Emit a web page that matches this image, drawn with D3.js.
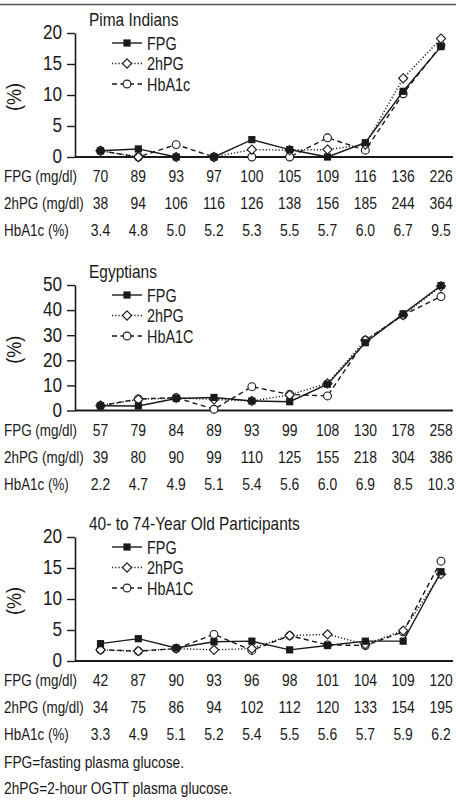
<!DOCTYPE html>
<html><head><meta charset="utf-8">
<script src="https://cdn.jsdelivr.net/npm/d3@7"></script>
<style>body{margin:0;background:#fff}</style></head>
<body>
<svg id="c" width="456" height="804"></svg>
<script>
// ---------- data ----------
const panelTitles = ["Pima Indians", "Egyptians", "40- to 74-Year Old Participants"];
const legendNames1 = ["FPG", "2hPG", "HbA1c"];
const legendNames2 = ["FPG", "2hPG", "HbA1C"];
const legendNames3 = ["FPG", "2hPG", "HbA1C"];
const rowLabels = ["FPG (mg/dl)", "2hPG (mg/dl)", "HbA1c (%)"];

const pimaFPGLabels  = ["70","89","93","97","100","105","109","116","136","226"];
const pima2hPGLabels = ["38","94","106","116","126","138","156","185","244","364"];
const pimaHbLabels   = ["3.4","4.8","5.0","5.2","5.3","5.5","5.7","6.0","6.7","9.5"];
const pimaFPG  = [1.0, 1.3, 0, 0, 2.8, 1.2, 0, 2.3, 10.6, 17.8];
const pima2hPG = [1.0, 0, 0, 0, 1.2, 1.1, 1.2, 2.0, 12.7, 19.1];
const pimaHb   = [1.0, 0, 2.0, 0, 0, 0, 3.1, 1.1, 10.2, 18.0];
const pimaTicks = [0, 5, 10, 15, 20];

const egyFPGLabels  = ["57","79","84","89","93","99","108","130","178","258"];
const egy2hPGLabels = ["39","80","90","99","110","125","155","218","304","386"];
const egyHbLabels   = ["2.2","4.7","4.9","5.1","5.4","5.6","6.0","6.9","8.5","10.3"];
const egyFPG  = [1.9, 1.8, 4.8, 5.2, 3.8, 3.5, 10.5, 27.0, 38.5, 49.8];
const egy2hPG = [2.0, 4.4, 5.0, 4.4, 3.8, 6.2, 10.8, 28.0, 38.0, 49.5];
const egyHb   = [1.9, 4.6, 5.1, 0.5, 9.5, 6.4, 5.8, 28.0, 38.0, 45.4];
const egyTicks = [0, 10, 20, 30, 40, 50];

const oldFPGLabels  = ["42","87","90","93","96","98","101","104","109","120"];
const old2hPGLabels = ["34","75","86","94","102","112","120","133","154","195"];
const oldHbLabels   = ["3.3","4.9","5.1","5.2","5.4","5.5","5.6","5.7","5.9","6.2"];
const oldFPG  = [2.8, 3.6, 2.1, 3.1, 3.2, 1.8, 2.5, 3.2, 3.2, 14.4];
const old2hPG = [1.8, 1.6, 2.0, 1.8, 2.0, 4.1, 4.3, 2.7, 4.9, 14.0];
const oldHb   = [1.8, 1.6, 2.0, 4.3, 1.7, 4.1, 2.6, 2.5, 4.7, 16.1];
const oldTicks = [0, 5, 10, 15, 20];

const footnotes = ["FPG=fasting plasma glucose.", "2hPG=2-hour OGTT plasma glucose."];

// ---------- drawing ----------
const FONT = "'Liberation Sans', Arial, sans-serif";
const INK = "#1a1a1a";
const svg = d3.select("#c");

// condensed text helper (horizontal compression)
function txt(g, x, y, s, size, sx, anchor) {
  return g.append("text")
    .attr("transform", `translate(${x},${y}) scale(${sx},1)`)
    .attr("text-anchor", anchor || "start")
    .attr("font-family", FONT).attr("font-size", size).attr("fill", INK)
    .text(s);
}

svg.append("line").attr("x1", 0).attr("x2", 456).attr("y1", 4.5).attr("y2", 4.5)
  .attr("stroke", "#555").attr("stroke-width", 1.6);

const panels = [
  {title: panelTitles[0], names: legendNames1, labels: [pimaFPGLabels, pima2hPGLabels, pimaHbLabels],
   series: [pimaFPG, pima2hPG, pimaHb], ticks: pimaTicks, top: 33, zero: 157},
  {title: panelTitles[1], names: legendNames2, labels: [egyFPGLabels, egy2hPGLabels, egyHbLabels],
   series: [egyFPG, egy2hPG, egyHb], ticks: egyTicks, top: 285, zero: 410.5},
  {title: panelTitles[2], names: legendNames3, labels: [oldFPGLabels, old2hPGLabels, oldHbLabels],
   series: [oldFPG, old2hPG, oldHb], ticks: oldTicks, top: 537, zero: 661}
];

const x = d3.scaleLinear().domain([0, 9]).range([100.5, 441]);
const axisX = 75;

const styles = [
  {dash: null, marker: "square"},
  {dash: "1.2,2", marker: "diamond"},
  {dash: "5,3.5", marker: "circle"}
];

function marker(g, type, cx, cy) {
  if (type === "square") {
    g.append("rect").attr("x", cx - 3.6).attr("y", cy - 3.6).attr("width", 7.2).attr("height", 7.2)
      .attr("fill", INK);
  } else if (type === "diamond") {
    const r = 4.6;
    g.append("path").attr("d", `M${cx},${cy - r}L${cx + r},${cy}L${cx},${cy + r}L${cx - r},${cy}Z`)
      .attr("fill", "#fff").attr("stroke", INK).attr("stroke-width", 1.1);
  } else {
    g.append("circle").attr("cx", cx).attr("cy", cy).attr("r", 3.9)
      .attr("fill", "#fff").attr("stroke", INK).attr("stroke-width", 1.1);
  }
}

panels.forEach(p => {
  const g = svg.append("g");
  const yMax = p.ticks[p.ticks.length - 1];
  const y = d3.scaleLinear().domain([0, yMax]).range([p.zero, p.top]);

  // y axis
  const ya = g.append("g").attr("transform", `translate(${axisX},0)`)
    .call(d3.axisLeft(y).tickValues(p.ticks).tickSize(8).tickSizeOuter(0).tickPadding(5));
  ya.select(".domain").attr("stroke", INK).attr("stroke-width", 1.6);
  ya.selectAll(".tick line").attr("stroke", INK).attr("stroke-width", 1.4);
  ya.selectAll(".tick text").remove();
  p.ticks.forEach(t => {
    txt(g, 62, y(t) + 6.3, String(t), 19.5, 0.88, "end");
  });

  // x axis baseline
  g.append("line").attr("x1", axisX).attr("x2", 453).attr("y1", y(0)).attr("y2", y(0))
    .attr("stroke", INK).attr("stroke-width", 1.8);

  // y label
  g.append("text").attr("transform", `translate(21,${(p.top + p.zero) / 2 + 2}) rotate(-90) scale(0.86,1)`)
    .attr("text-anchor", "middle").attr("font-family", FONT).attr("font-size", 21).attr("fill", INK)
    .text("(%)");

  // title
  txt(g, 89, p.top - 7, p.title, 18, 0.86);

  // series (draw HbA1c first, FPG last)
  [2, 1, 0].forEach(si => {
    const line = d3.line().x((d, i) => x(i)).y(d => y(d));
    g.append("path").datum(p.series[si]).attr("d", line).attr("fill", "none")
      .attr("stroke", INK).attr("stroke-width", 1.4)
      .attr("stroke-dasharray", styles[si].dash);
    p.series[si].forEach((v, i) => marker(g, styles[si].marker, x(i), y(v)));
  });

  // legend
  p.names.forEach((n, k) => {
    const ly = p.top + 10 + k * 20.5;
    g.append("line").attr("x1", 112).attr("x2", 142).attr("y1", ly).attr("y2", ly)
      .attr("stroke", INK).attr("stroke-width", 1.4).attr("stroke-dasharray", styles[k].dash);
    marker(g, styles[k].marker, 127, ly);
    txt(g, 147, ly + 6.5, n, 18, 0.8);
  });

  // table
  rowLabels.forEach((r, k) => {
    const ty = p.zero + 25 + k * 27;
    txt(g, 4, ty, r, 17, 0.79);
    p.labels[k].forEach((t, i) => {
      txt(g, x(i), ty, t, 17, 0.82, "middle");
    });
  });
});

footnotes.forEach((f, k) => {
  txt(svg, 4, 768 + k * 26, f, 17, 0.81);
});
</script>
</body></html>
